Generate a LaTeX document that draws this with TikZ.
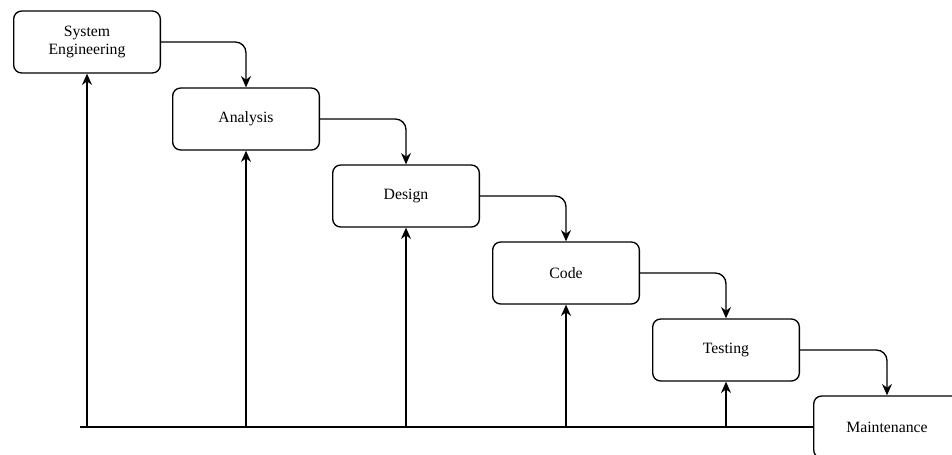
\documentclass[tikz,border=0pt]{standalone}
\usepackage{fontspec}
\setmainfont{Liberation Serif}
\usetikzlibrary{arrows.meta,positioning}

\tikzset{
    phase/.style={draw, line width=1pt, rounded corners=6pt, fill=white,
        minimum width=110pt, minimum height=46.5pt, align=center,
        font=\fontsize{11.8}{13.5}\selectfont},
    flow/.style={line width=1pt, rounded corners=8pt, -{Stealth[length=8.5pt,width=7.5pt]}},
    back/.style={line width=1pt, -{Stealth[length=8.5pt,width=7.5pt]}}
}

\begin{document}
\begin{tikzpicture}[x=0.75pt, y=-0.75pt]
    \clip (0,0) rectangle (952,454);
    \useasboundingbox (0,0) rectangle (952,454);

    % Phases of the cascade
    \node[phase] (sys) at (87,42) {System\\Engineering};
    \node[phase] (ana) at (246,119) {Analysis};
    \node[phase] (des) at (406,196) {Design};
    \node[phase] (cod) at (566,273) {Code};
    \node[phase] (tst) at (726,350) {Testing};
    \node[phase] (mnt) at (887,427) {Maintenance};

    % Going down the steps
    \draw[flow] (sys.east) -| (ana.north);
    \draw[flow] (ana.east) -| (des.north);
    \draw[flow] (des.east) -| (cod.north);
    \draw[flow] (cod.east) -| (tst.north);
    \draw[flow] (tst.east) -| (mnt.north);

    % Feedback line along the bottom
    \coordinate (base) at (80,427);
    \draw[line width=1pt] (base) -- (mnt.west);
    \draw[back] (sys |- base) -- (sys.south);
    \draw[back] (ana |- base) -- (ana.south);
    \draw[back] (des |- base) -- (des.south);
    \draw[back] (cod |- base) -- (cod.south);
    \draw[back] (tst |- base) -- (tst.south);
\end{tikzpicture}
\end{document}
